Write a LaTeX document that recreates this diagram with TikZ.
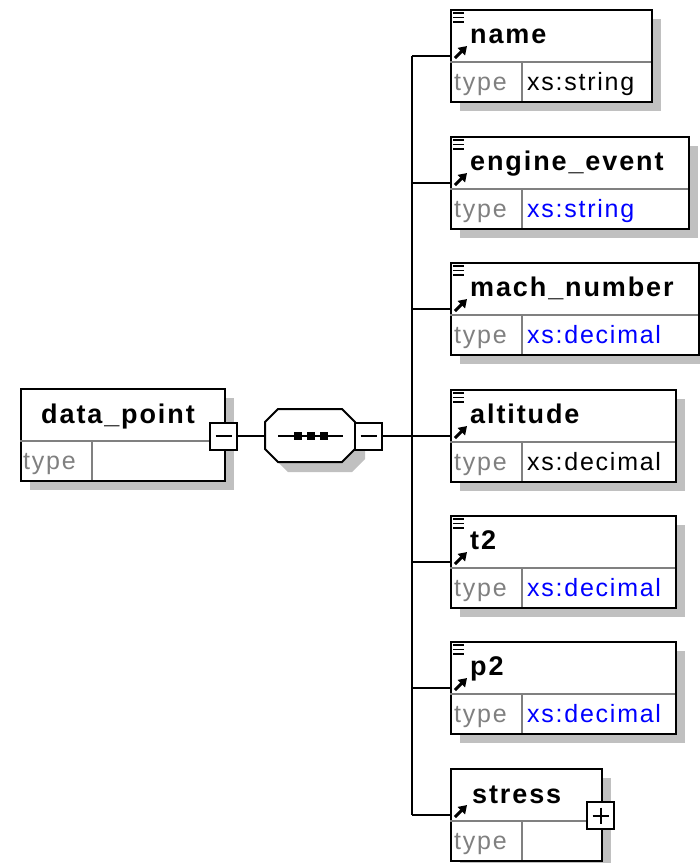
\documentclass[tikz,border=0pt]{standalone}
\usepackage{fontspec}
\setmainfont{Liberation Sans}
\newfontfamily\xsdfont[LetterSpace=7]{Liberation Sans}
\usetikzlibrary{arrows.meta}
\definecolor{shadowgray}{RGB}{192,192,192}
\definecolor{typegray}{RGB}{128,128,128}
\definecolor{xsblue}{RGB}{0,0,255}
\tikzset{elembox/.style={draw,line width=2pt,fill=white,rectangle,inner sep=0,minimum height=92pt,anchor=north west},
         shadowbox/.style={fill=shadowgray,rectangle,inner sep=0,minimum height=92pt,anchor=north west},
         togglebox/.style={draw,line width=2pt,fill=white,rectangle,inner sep=0,minimum size=27pt},
         seqbox/.style={rectangle,inner sep=0,minimum width=90pt,minimum height=53pt},
         rowline/.style={draw=typegray,line width=1.5pt},
         wire/.style={line width=2pt},
         iconline/.style={line width=1.8pt},
         elarrow/.style={line width=3pt,-{Triangle[length=8pt,width=10pt]}},
         eltitle/.style={anchor=base west,inner sep=0,font=\xsdfont\fontsize{27}{30}\selectfont\bfseries},
         eltype/.style={anchor=base west,inner sep=0,font=\xsdfont\fontsize{25}{28}\selectfont}
}

\begin{document}
\begin{tikzpicture}[x=1pt,y=-1pt]
  \useasboundingbox(0,0)rectangle(700,863);
  % root element
  \node[shadowbox,minimum width=204pt](dpShadow)at(30,398){};
  \node[elembox,minimum width=204pt](dataPoint)at(20,388){};
  \draw[rowline](20,441)--(224,441);
  \draw[rowline](92,441)--(92,480);
  \node[eltitle,anchor=base](dpTitle)at(118,423){data\_point};
  \node[eltype,text=typegray](dpTypeKey)at(23,469){type};
  \node[togglebox](dpToggle)at(223.5,436){};
  \draw[wire](dpToggle.center)+(-8,0)--+(8,0);
  % sequence
  \fill[shadowgray,shift={(10,10)}](265,422)--(278,409)--(342,409)--(355,422)--(355,449)--(342,462)--(278,462)--(265,449)--cycle;
  \draw[line width=2pt,fill=white](265,422)--(278,409)--(342,409)--(355,422)--(355,449)--(342,462)--(278,462)--(265,449)--cycle;
  \node[seqbox](seq)at(310,436){};
  \draw[wire](278,436)--(343,436);
  \foreach\sx in {298,311,324}
     \fill(\sx,436)+(-4,-4)rectangle+(4,4);
  \node[togglebox](seqToggle)at(368.5,436){};
  \draw[wire](seqToggle.center)+(-8,0)--+(8,0);
  \draw[wire](dpToggle.east)--(seq.west);
  % children
  \foreach\el/\lbl/\yy/\bw/\tcol/\tname in {nameEl/name/9/201/black/xs:string,
        engineEl/engine\_event/136/238/xsblue/xs:string,
        machEl/mach\_number/262/248/xsblue/xs:decimal,
        altitudeEl/altitude/389/225/black/xs:decimal,
        tTwoEl/t2/515/225/xsblue/xs:decimal,
        pTwoEl/p2/641/225/xsblue/xs:decimal} {
     \node[shadowbox,minimum width=\bw pt](\el-shadow)at(460,\yy+10){};
     \node[elembox,minimum width=\bw pt](\el)at(450,\yy){};
     \draw[rowline](450,\yy+53)--+(\bw,0);
     \draw[rowline](522,\yy+53)--(522,\yy+92);
     \foreach\dy in {4,8.5,13}
        \draw[iconline](453,\yy+\dy)--+(11,0);
     \draw[elarrow](455,\yy+49)--+(12,-12);
     \node[eltitle](\el-title)at(470,\yy+34){\lbl};
     \node[eltype,text=typegray](\el-typekey)at(454,\yy+81){type};
     \node[eltype,text=\tcol](\el-type)at(527,\yy+81){\tname};
     \coordinate(bus-\el)at(412,\yy+47);
     \draw[wire](bus-\el)--(\el.west|-bus-\el);
  }
  % stress (complex type)
  \node[shadowbox,minimum width=151pt](stressShadow)at(460,778){};
  \node[elembox,minimum width=151pt](stressEl)at(450,768){};
  \draw[rowline](450,821)--(601,821);
  \draw[rowline](522,821)--(522,860);
  \draw[elarrow](455,817)--+(12,-12);
  \node[eltitle](stressTitle)at(472,803){stress};
  \node[eltype,text=typegray](stressTypeKey)at(454,849){type};
  \node[togglebox](stressToggle)at(600.5,815.5){};
  \draw[wire](stressToggle.center)+(-8,0)--+(8,0)(stressToggle.center)+(0,-8)--+(0,8);
  \coordinate(bus-stressEl)at(412,815);
  \draw[wire](bus-stressEl)--(stressEl.west|-bus-stressEl);
  % bus
  \draw[wire](bus-nameEl)--(bus-stressEl);
  \draw[wire](seqToggle.east)--(bus-altitudeEl);
\end{tikzpicture}
\end{document}
